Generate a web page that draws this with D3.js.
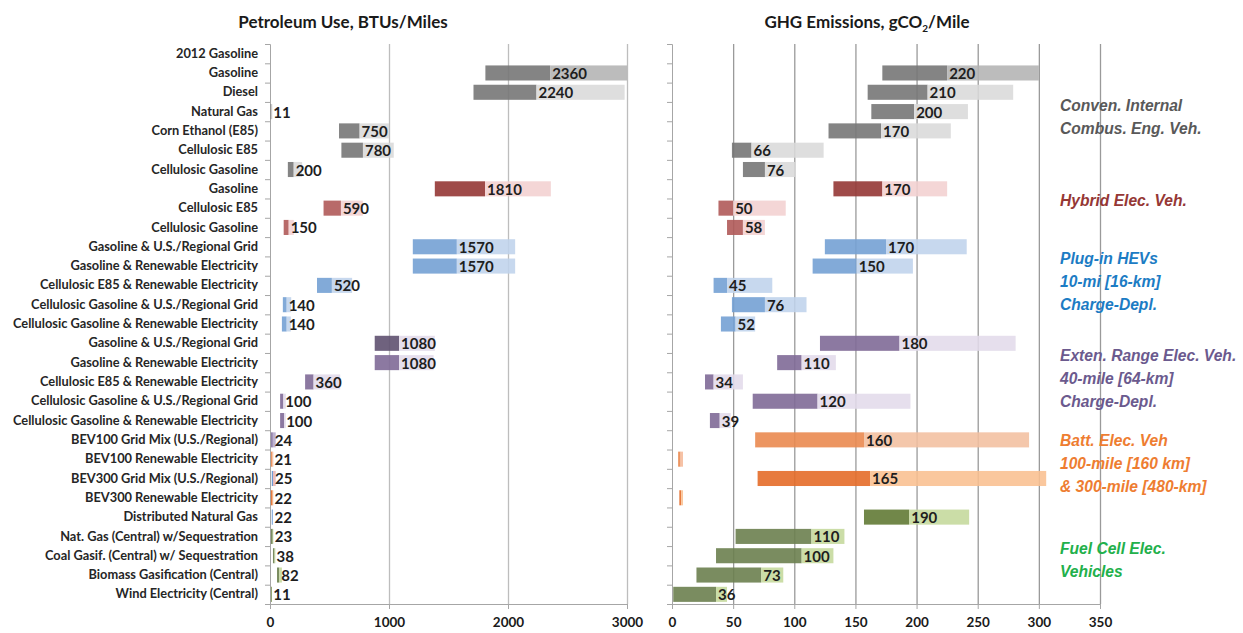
<!DOCTYPE html>
<html>
<head>
<meta charset="utf-8">
<script src="https://cdn.jsdelivr.net/npm/d3@7"></script>
<style>
  body { margin: 0; background: #fff; }
  .cat text { font-family: Lato, sans-serif; font-weight: bold; font-size: 12.8px; fill: #262626; }
  .xaxis text { font-family: Lato, sans-serif; font-weight: bold; font-size: 13.5px; fill: #1a1a1a; }
  .title { font-family: Lato, sans-serif; font-weight: bold; font-size: 17px; fill: #1a1a1a; }
  .val { font-family: Lato, sans-serif; font-weight: bold; font-size: 15px; fill: #1e1e1e; }
  .legend { font-family: "Liberation Sans", Arial, sans-serif; font-weight: bold; font-style: italic; font-size: 15.6px; }
</style>
</head>
<body>
<script>
//W and H
var w = 1243;
var h = 633;
var plotTop = 44, plotBottom = 604;

//categories (one per row, top to bottom)
var categories = ["2012 Gasoline", "Gasoline", "Diesel", "Natural Gas", "Corn Ethanol (E85)",
    "Cellulosic E85", "Cellulosic Gasoline", "Gasoline", "Cellulosic E85", "Cellulosic Gasoline",
    "Gasoline & U.S./Regional Grid", "Gasoline & Renewable Electricity", "Cellulosic E85 & Renewable Electricity",
    "Cellulosic Gasoline & U.S./Regional Grid", "Cellulosic Gasoline & Renewable Electricity",
    "Gasoline & U.S./Regional Grid", "Gasoline & Renewable Electricity", "Cellulosic E85 & Renewable Electricity",
    "Cellulosic Gasoline & U.S./Regional Grid", "Cellulosic Gasoline & Renewable Electricity",
    "BEV100 Grid Mix (U.S./Regional)", "BEV100 Renewable Electricity", "BEV300 Grid Mix (U.S./Regional)",
    "BEV300 Renewable Electricity", "Distributed Natural Gas", "Nat. Gas (Central) w/Sequestration",
    "Coal Gasif. (Central) w/ Sequestration", "Biomass Gasification (Central)", "Wind Electricity (Central)"];

//petroleum use, BTU/mile: low end, point value, high end
var petroLow  = [null, 1810, 1710, 5, 580, 600, 150, 1385, 450, 115, 1200, 1200, 395, 108, 100, 880, 880, 295, 85, 85, 8, 8, 15, 8, 15, 8, 25, 59, 8];
var petroMid  = [null, 2354, 2239, 11, 753, 781, 199, 1807, 596, 157, 1570, 1570, 520, 140, 140, 1085, 1085, 366, 112, 119, 24, 21, 25, 22, 22, 23, 38, 78, 11];
var petroHigh = [null, 3000, 2980, 20, 1000, 1040, 270, 2360, 780, 200, 2060, 2060, 690, 178, 175, 1385, 1375, 590, 133, 133, 48, 28, 48, 28, 25, 28, 45, 100, 14];
var petroLabel = ["", "2360", "2240", "11", "750", "780", "200", "1810", "590", "150", "1570", "1570", "520", "140", "140",
    "1080", "1080", "360", "100", "100", "24", "21", "25", "22", "22", "23", "38", "82", "11"];

//GHG emissions, gCO2/mile
var ghgLow  = [null, 172, 160, 163, 128, 49, 58, 132, 38, 45, 125, 115, 34, 49, 40, 121, 86, 27, 66, 31, 68, 5, 70, 6, 157, 52, 36, 20, 1];
var ghgMid  = [null, 225, 209, 198, 171, 65, 76, 172, 50, 58, 175, 151, 45, 76, 52, 186, 106, 34, 119, 39, 157, 7, 162, 7.5, 194, 114, 106, 73, 36];
var ghgHigh = [null, 300, 279, 242, 228, 124, 101, 225, 93, 76, 241, 197, 82, 110, 68, 281, 134, 58, 195, 48, 292, 9, 306, 9, 243, 141, 132, 91, 45];
var ghgLabel = ["", "220", "210", "200", "170", "66", "76", "170", "50", "58", "170", "150", "45", "76", "52",
    "180", "110", "34", "120", "39", "160", "", "165", "", "190", "110", "100", "73", "36"];

//bar colours per row (dark = low..value, light = value..high)
var darkColor = [null, "#777777", "#777777", "#777777", "#777777", "#777777", "#777777",
    "#953735", "#b05a59", "#b05a59",
    "#74a1d4", "#74a1d4", "#74a1d4", "#74a1d4", "#74a1d4",
    "#7f6a97", "#7f6a97", "#7f6a97", "#7f6a97", "#7f6a97",
    "#ea8a50", "#ea8a50", "#e46c28", "#e46c28",
    "#627a35", "#6b7f4f", "#6b7f4f", "#6b7f4f", "#6b7f4f"];
var lightColor = [null, "#b3b3b3", "#d9d9d9", "#d9d9d9", "#d9d9d9", "#d9d9d9", "#d9d9d9",
    "#f2d0d0", "#f2d0d0", "#f2d0d0",
    "#bfd3ec", "#bfd3ec", "#bfd3ec", "#bfd3ec", "#bfd3ec",
    "#e2dbeb", "#e2dbeb", "#e2dbeb", "#e2dbeb", "#e2dbeb",
    "#f2bf9f", "#f5b99a", "#f9bf8f", "#f9bf8f",
    "#c4d89b", "#c4d89b", "#c4d89b", "#c4d89b", "#c4d89b"];
//rows where the petroleum panel uses other colours
var petroDarkFix = {15: "#5f5170", 20: "#8677a3", 22: "#5b8fd0", 24: "#5b8fd0"};
var petroLightFix = {20: "#b5a9cb", 22: "#e8b4b4", 24: "#9dbde6"};

//legend groups: text lines, colour, anchor row
var legendLines = [["Conven. Internal", "Combus. Eng. Veh."], ["Hybrid Elec. Veh."],
    ["Plug-in HEVs", "10-mi [16-km]", "Charge-Depl."],
    ["Exten. Range Elec. Veh.", "40-mile [64-km]", "Charge-Depl."],
    ["Batt. Elec. Veh", "100-mile [160 km]", "& 300-mile [480-km]"],
    ["Fuel Cell Elec.", "Vehicles"]];
var legendColor = ["#595959", "#953735", "#1c7cc4", "#6b5a8e", "#ee7d31", "#22b04b"];
var legendRow = [3.3, 7.65, 11.85, 16.85, 21.25, 26.25];

var petroTicks = [0, 1000, 2000, 3000];
var ghgTicks = [0, 50, 100, 150, 200, 250, 300, 350];

var rows = d3.range(categories.length);

//Scales
var y = d3.scaleBand()
    .domain(rows)
    .range([plotTop, plotBottom])
    .paddingInner(0.22)
    .paddingOuter(0.11);

//linear version for the row boundary ticks
var yEdge = d3.scaleLinear()
    .domain([0, categories.length])
    .range([plotTop, plotBottom]);

var xPetro = d3.scaleLinear().domain([0, 3000]).range([270, 627]);
var xGhg = d3.scaleLinear().domain([0, 350]).range([672, 1100]);

//SVG
var svg = d3.select("body")
    .append("svg")
    .attr("width", w)
    .attr("height", h);

function panel(x, ticks, gridColor, low, mid, high, labels, darkFix, lightFix) {
    var g = svg.append("g");

    //gridlines
    g.append("g")
        .attr("transform", "translate(0," + plotBottom + ")")
        .call(d3.axisBottom(x).tickValues(ticks.slice(1)).tickSize(-(plotBottom - plotTop)).tickFormat(""))
        .call(function(s) {
            s.select(".domain").remove();
            s.selectAll("line").attr("stroke", gridColor).attr("stroke-width", 1.3);
        });

    //row boundary ticks + left axis line
    g.append("g")
        .attr("transform", "translate(" + x(0) + ",0)")
        .call(d3.axisLeft(yEdge).tickValues(d3.range(categories.length + 1)).tickSize(5).tickFormat(""))
        .call(function(s) {
            s.selectAll("line, .domain").attr("stroke", "#a6a6a6").attr("stroke-width", 1);
        });

    //bottom axis
    g.append("g")
        .attr("class", "xaxis")
        .attr("transform", "translate(0," + plotBottom + ")")
        .call(d3.axisBottom(x).tickValues(ticks).tickSize(5).tickPadding(8).tickFormat(d3.format("d")))
        .call(function(s) {
            s.selectAll("line, .domain").attr("stroke", "#a6a6a6");
        });

    var data = rows.filter(function(i) { return low[i] !== null; });

    //dark part of the bar
    g.selectAll(".dark")
        .data(data)
        .enter().append("rect")
        .attr("x", function(i) { return x(low[i]); })
        .attr("y", function(i) { return y(i); })
        .attr("width", function(i) { return Math.max(1, x(mid[i]) - x(low[i])); })
        .attr("height", y.bandwidth())
        .attr("fill", function(i) { return (darkFix && darkFix[i]) || darkColor[i]; })
        .attr("fill-opacity", 0.9);

    //light part
    g.selectAll(".light")
        .data(data)
        .enter().append("rect")
        .attr("x", function(i) { return x(mid[i]); })
        .attr("y", function(i) { return y(i); })
        .attr("width", function(i) { return Math.max(0, x(high[i]) - x(mid[i])); })
        .attr("height", y.bandwidth())
        .attr("fill", function(i) { return (lightFix && lightFix[i]) || lightColor[i]; })
        .attr("fill-opacity", 0.88);

    //value labels
    g.selectAll(".val")
        .data(data)
        .enter().append("text")
        .attr("class", "val")
        .attr("x", function(i) { return x(mid[i]) + 2; })
        .attr("y", function(i) { return y(i) + y.bandwidth() / 2 + 6; })
        .text(function(i) { return labels[i]; });
}

panel(xPetro, petroTicks, "#bdbdbd", petroLow, petroMid, petroHigh, petroLabel, petroDarkFix, petroLightFix);
panel(xGhg, ghgTicks, "#9a9a9a", ghgLow, ghgMid, ghgHigh, ghgLabel);

//category labels
svg.append("g")
    .attr("class", "cat")
    .attr("transform", "translate(" + xPetro(0) + ",0)")
    .call(d3.axisLeft(y).tickSize(0).tickPadding(12).tickFormat(function(i) { return categories[i]; }))
    .call(function(s) { s.select(".domain").remove(); });

//titles
svg.append("text")
    .attr("class", "title")
    .attr("x", 343)
    .attr("y", 28)
    .attr("text-anchor", "middle")
    .text("Petroleum Use, BTUs/Miles");

var t2 = svg.append("text")
    .attr("class", "title")
    .attr("x", 867)
    .attr("y", 28)
    .attr("text-anchor", "middle");
t2.append("tspan").text("GHG Emissions, gCO");
t2.append("tspan").attr("dy", 4).attr("font-size", "10px").text("2");
t2.append("tspan").attr("dy", -4).text("/Mile");

//legend
legendLines.forEach(function(lines, k) {
    var cy = y(Math.floor(legendRow[k])) + y.step() * (legendRow[k] % 1) + y.bandwidth() / 2;
    var y0 = cy - (lines.length - 1) * 23 / 2;
    svg.selectAll(null)
        .data(lines)
        .enter().append("text")
        .attr("class", "legend")
        .attr("x", 1060)
        .attr("y", function(d, j) { return y0 + j * 23 + 5; })
        .attr("fill", legendColor[k])
        .text(function(d) { return d; });
});
</script>
</body>
</html>
